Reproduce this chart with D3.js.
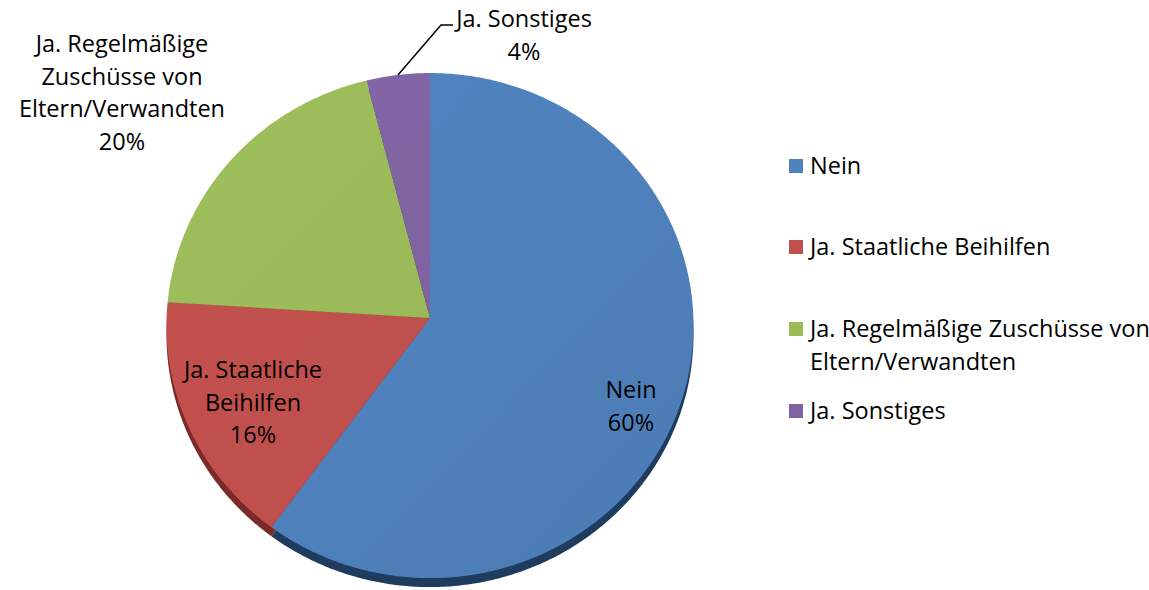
<!DOCTYPE html>
<html>
<head>
<meta charset="utf-8">
<script src="https://cdn.jsdelivr.net/npm/d3@7"></script>
<style>
  body { margin: 0; background: #fff; }
  text { font-family: "Open Sans", Lato, sans-serif; font-size: 23.5px; fill: #000; }
</style>
</head>
<body>
<svg id="chart"></svg>
<script>
// data
const categories = ["Nein", "Ja. Staatliche Beihilfen", "Ja. Regelmäßige Zuschüsse von Eltern/Verwandten", "Ja. Sonstiges"];
const values = [60, 16, 20, 4];
const percentLabels = ["60%", "16%", "20%", "4%"];
const sliceLabelLines = [["Nein"], ["Ja. Staatliche", "Beihilfen"], ["Ja. Regelmäßige", "Zuschüsse von", "Eltern/Verwandten"], ["Ja. Sonstiges"]];
const legendLines = [["Nein"], ["Ja. Staatliche Beihilfen"], ["Ja. Regelmäßige Zuschüsse von", "Eltern/Verwandten"], ["Ja. Sonstiges"]];
const colors = ["#4f81bd", "#c0504d", "#9bbb59", "#8064a2"];
const sideColors = ["#1f3b5e", "#7b2a28", "#5f7a2f", "#4b3a66"];

// layout
const W = 1149, H = 590;
const cx = 430, cy = 318, rx = 263.4, ry = 252.3, persp = -0.03, depth = 9;
const lineH = 32.5;
const labelPos = [{x: 631, y: 398}, {x: 253, y: 378}, {x: 122, y: 52}, {x: 524, y: 27}];
const leader = {index: 3, elbowX: 441, endX: 453, y: 25};
const legend = {x: 789, size: 14, textX: 810, baselines: [174, 255, 337, 419], lineH: 33};

const svg = d3.select("#chart").attr("width", W).attr("height", H);

// tilted disc: angle from 12 o'clock, clockwise
function proj(theta, r) {
    const u = r * Math.sin(theta), v = -r * Math.cos(theta), k = 1 + persp * v;
    return [cx + rx * u / k, cy + ry * v / k];
}

const arcs = d3.pie().sort(null).value(d => d)(values);
const line = d3.line();

function slicePath(a, dy) {
    const n = Math.max(2, Math.ceil((a.endAngle - a.startAngle) / 0.01));
    const pts = [[cx, cy + dy]];
    d3.range(n + 1).forEach(i => {
        const p = proj(a.startAngle + (a.endAngle - a.startAngle) * i / n, 1);
        pts.push([p[0], p[1] + dy]);
    });
    return line(pts) + "Z";
}

const defs = svg.append("defs");
colors.forEach((c, i) => {
    const g = defs.append("linearGradient")
        .attr("id", "grad" + i)
        .attr("gradientUnits", "userSpaceOnUse")
        .attr("x1", cx - rx).attr("y1", cy - ry)
        .attr("x2", cx + rx).attr("y2", cy + ry);
    g.append("stop").attr("offset", "0%").attr("stop-color", d3.color(c).brighter(0.08));
    g.append("stop").attr("offset", "100%").attr("stop-color", d3.color(c).darker(0.12));
});

// side (depth) first
svg.append("g").selectAll("path")
    .data(arcs)
    .enter()
    .append("path")
    .attr("d", d => slicePath(d, depth))
    .style("fill", (d, i) => sideColors[i]);

// top faces
svg.append("g").selectAll("path")
    .data(arcs)
    .enter()
    .append("path")
    .attr("d", d => slicePath(d, 0))
    .style("fill", (d, i) => "url(#grad" + i + ")");

// slice labels
arcs.forEach((a, i) => {
    const lines = sliceLabelLines[i].concat([percentLabels[i]]);
    const t = svg.append("text")
        .attr("text-anchor", "middle");
    lines.forEach((s, j) => {
        t.append("tspan")
            .attr("x", labelPos[i].x)
            .attr("y", labelPos[i].y + j * lineH)
            .text(s);
    });
});

// leader line for the small slice
const la = arcs[leader.index];
const edge = proj((la.startAngle + la.endAngle) / 2, 1);
svg.append("path")
    .attr("d", line([edge, [leader.elbowX, leader.y], [leader.endX, leader.y]]))
    .style("fill", "none")
    .style("stroke", "#000")
    .style("stroke-width", 1.5);

// legend
const lg = svg.append("g");
categories.forEach((c, i) => {
    const b = legend.baselines[i];
    lg.append("rect")
        .attr("x", legend.x)
        .attr("y", b - 15)
        .attr("width", legend.size)
        .attr("height", legend.size)
        .style("fill", colors[i]);
    const t = lg.append("text");
    legendLines[i].forEach((s, j) => {
        t.append("tspan")
            .attr("x", legend.textX)
            .attr("y", b + j * legend.lineH)
            .text(s);
    });
});
</script>
</body>
</html>
